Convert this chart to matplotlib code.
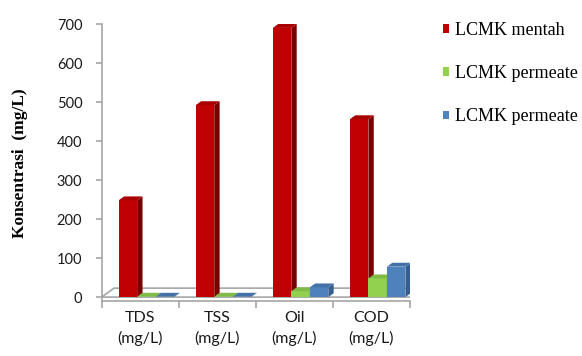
import matplotlib
matplotlib.use("Agg")
import matplotlib.pyplot as plt
from matplotlib.patches import Polygon, Patch

# data
categories = ["TDS\n(mg/L)", "TSS\n(mg/L)", "Oil\n(mg/L)", "COD\n(mg/L)"]
mentah = [248, 492, 690, 456]
permeate_hijau = [1, 1, 15, 48]
permeate_biru = [1, 1, 25, 78]
series_names = ["LCMK mentah", "LCMK permeate", "LCMK permeate"]

# warna muka depan, samping, atas
front = ["#C00000", "#92D050", "#4F81BD"]
side = ["#7A0000", "#6A9A38", "#365F8F"]
top = ["#A80000", "#80BC45", "#4472A6"]

W, H = 582, 356
fig = plt.figure(figsize=(W / 100, H / 100), dpi=100)
ax = fig.add_axes([101.7 / W, (H - 301) / H, (410 - 101.7) / W, (301 - 24) / H])
ax.set_xlim(-0.5, 3.5)
ax.set_ylim(-10, 700)

# lantai 3D
fdx, fdy = 0.16, 23
floor = Polygon([(-0.5, 0), (3.5, 0), (3.5 + fdx, fdy), (-0.5 + fdx, fdy)],
                closed=True, facecolor="white", edgecolor="#A6A6A6", lw=1.2, zorder=1)
ax.add_patch(floor)

# batang dengan sisi dan atas
bw = 0.24
offsets = [-0.16, 0.08, 0.32]
ddx, ddy = 0.07, 10
z = 2
for k, vals in enumerate([mentah, permeate_hijau, permeate_biru]):
    for i, v in enumerate(vals):
        x0 = i + offsets[k] - bw / 2
        x1 = x0 + bw
        ax.bar(x0, v, width=bw, align="edge", color=front[k], zorder=z)
        ax.add_patch(Polygon([(x1, 0), (x1 + ddx, ddy), (x1 + ddx, v + ddy), (x1, v)],
                             closed=True, facecolor=side[k], lw=0, zorder=z))
        ax.add_patch(Polygon([(x0, v), (x1, v), (x1 + ddx, v + ddy), (x0 + ddx, v + ddy)],
                             closed=True, facecolor=top[k], lw=0, zorder=z))
    z += 1

# sumbu
for s in ["top", "right"]:
    ax.spines[s].set_visible(False)
ax.spines["left"].set_color("#A6A6A6")
ax.spines["bottom"].set_color("#A6A6A6")
ax.spines["left"].set_linewidth(1.2)
ax.spines["bottom"].set_linewidth(1.2)

ax.set_yticks(range(0, 701, 100))
ax.tick_params(axis="y", length=4, width=1.2, color="#A6A6A6", pad=10,
               labelsize=10.5, labelcolor="#1a1a1a")
ax.set_xticks(range(len(categories)))
ax.set_xticklabels(categories, linespacing=1.5)
ax.set_xticks([-0.5, 0.5, 1.5, 2.5, 3.5], minor=True)
ax.tick_params(axis="x", which="major", length=0, pad=7, labelsize=11.5,
               labelcolor="#1a1a1a")
ax.tick_params(axis="x", which="minor", length=5, width=1.2, color="#A6A6A6")
for lab in ax.get_xticklabels() + ax.get_yticklabels():
    lab.set_family("Lato")

fig.text(20 / W, (H - 163) / H, "Konsentrasi  (mg/L)", rotation=90,
         family="Liberation Serif", weight="bold", fontsize=12.5,
         ha="center", va="center")

handles = [Patch(facecolor=c, edgecolor="none") for c in front]
fig.legend(handles, series_names, loc="upper left",
           bbox_to_anchor=(443 / W, (H - 22) / H), frameon=False,
           prop={"family": "Liberation Serif", "size": 13},
           handlelength=0.35, handleheight=0.35, handletextpad=0.3,
           labelspacing=1.45, borderpad=0, borderaxespad=0)

fig.savefig("out.png", dpi=100)
